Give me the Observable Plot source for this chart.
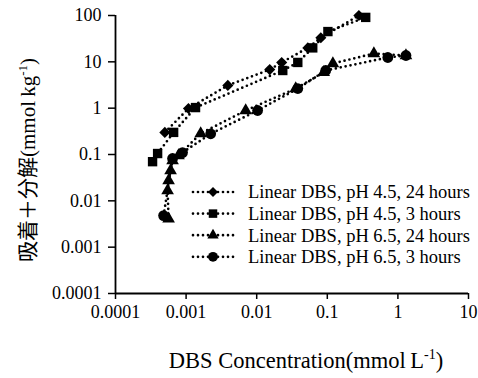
<!DOCTYPE html>
<html><head><meta charset="utf-8">
<script src="https://cdn.jsdelivr.net/npm/d3@7"></script>
<script src="https://cdn.jsdelivr.net/npm/@observablehq/plot@0.6"></script>
<style>
body{margin:0;background:#fff;}
#chart{position:relative;width:478px;height:378px;}
</style></head><body><div id="chart"></div>
<script>
const seriesNames = ["Linear DBS, pH 4.5, 24 hours","Linear DBS, pH 4.5, 3 hours","Linear DBS, pH 6.5, 24 hours","Linear DBS, pH 6.5, 3 hours"];
const ph45h24X = [0.0005, 0.00108, 0.0039, 0.0153, 0.0226, 0.053, 0.081, 0.28];
const ph45h24Y = [0.3, 0.98, 3.1, 6.8, 9.7, 20, 33, 100];
const ph45h3X = [0.000335, 0.000395, 0.000666, 0.00136, 0.0234, 0.0382, 0.0622, 0.102, 0.35];
const ph45h3Y = [0.07, 0.105, 0.3, 1.03, 6.5, 9.7, 20, 45, 91];
const ph65h24X = [0.000565, 0.000547, 0.000565, 0.000603, 0.000643, 0.00078, 0.00161, 0.00698, 0.0357, 0.089, 0.12, 0.457, 1.3];
const ph65h24Y = [0.0041, 0.0167, 0.0275, 0.045, 0.074, 0.095, 0.284, 0.89, 2.65, 5.9, 9.2, 15.1, 13.7];
const ph65h3X = [0.00048, 0.000643, 0.00089, 0.00223, 0.0103, 0.0382, 0.095, 0.72, 1.3];
const ph65h3Y = [0.0048, 0.082, 0.11, 0.28, 0.89, 2.65, 6.5, 12.4, 13.7];
const xTicks = [0.0001, 0.001, 0.01, 0.1, 1, 10];
const xTickLabels = ["0.0001", "0.001", "0.01", "0.1", "1", "10"];
const yTicks = [0.0001, 0.001, 0.01, 0.1, 1, 10, 100];
const yTickLabels = ["0.0001", "0.001", "0.01", "0.1", "1", "10", "100"];
const xTitle = "DBS Concentration(mmol\u2009L";
const yTitle = "吸着＋分解(mmol\u2009kg";
const unitExp = "-1";

const xs = [ph45h24X, ph45h3X, ph65h24X, ph65h3X];
const ys = [ph45h24Y, ph45h3Y, ph65h24Y, ph65h3Y];
const symbols = ["diamond2", "square", "triangle", "circle"];
const radii = [5.0, 5.3, 4.7, 5.4];
const series = seriesNames.map((name, k) => ({
  name, symbol: symbols[k], r: radii[k],
  data: xs[k].map((x, i) => ({x, y: ys[k][i]}))
}));

const font = "'Times New Roman', 'Liberation Serif', 'Noto Sans CJK JP', serif";

const plot = Plot.plot({
  width: 478, height: 378,
  marginLeft: 115, marginRight: 10, marginTop: 15, marginBottom: 85,
  style: {fontFamily: font, fontSize: "18px", color: "#000", background: "#fff"},
  x: {type: "log", domain: [0.0001, 10]},
  y: {type: "log", domain: [0.0001, 100]},
  marks: [
    ...series.map(s => Plot.line(s.data, {x: "x", y: "y", stroke: "#000", strokeWidth: 2.7, strokeDasharray: "0 5", strokeLinecap: "round"})),
    ...series.map(s => Plot.dot(s.data, {x: "x", y: "y", symbol: s.symbol, r: s.r, fill: "#000", stroke: "none"})),
    Plot.axisX({ticks: xTicks, tickFormat: d => xTickLabels[xTicks.indexOf(d)], tickSize: 6, tickPadding: 6, label: null, fontSize: 18, strokeWidth: 1.5}),
    Plot.axisY({ticks: yTicks, tickFormat: d => yTickLabels[yTicks.indexOf(d)], tickSize: 7, tickPadding: 7, label: null, fontSize: 18, strokeWidth: 1.5}),
    Plot.ruleX([0.0001], {stroke: "#000", strokeWidth: 1.8}),
    Plot.ruleY([0.0001], {stroke: "#000", strokeWidth: 1.8})
  ]
});
document.getElementById("chart").appendChild(plot);

const svg = d3.select(plot);
// x title
const xt = svg.append("text").attr("x", 306).attr("y", 368).attr("text-anchor", "middle")
  .attr("font-family", font).attr("font-size", 22.5).attr("fill", "#000");
xt.append("tspan").text(xTitle);
xt.append("tspan").attr("dy", -9).attr("font-size", 14).text(unitExp);
xt.append("tspan").attr("dy", 9).text(")");
// y title
const yt = svg.append("text").attr("transform", "translate(35,160) rotate(-90)").attr("text-anchor", "middle")
  .attr("font-family", font).attr("font-size", 21).attr("fill", "#000");
yt.append("tspan").text(yTitle);
yt.append("tspan").attr("dy", -8).attr("font-size", 13).text(unitExp);
yt.append("tspan").attr("dy", 8).text(")");
// legend
const lg = svg.append("g");
const symMap = {diamond2: d3.symbolDiamond2, square: d3.symbolSquare, triangle: d3.symbolTriangle, circle: d3.symbolCircle};
series.forEach((s, k) => {
  const cy = 192 + k * 21.6;
  lg.append("line").attr("x1", 193).attr("x2", 234).attr("y1", cy).attr("y2", cy)
    .attr("stroke", "#000").attr("stroke-width", 2.7).attr("stroke-dasharray", "0 5").attr("stroke-linecap", "round");
  lg.append("path").attr("transform", `translate(213,${cy})`)
    .attr("d", d3.symbol(symMap[s.symbol], Math.PI * (s.r - 0.5) ** 2)()).attr("fill", "#000");
  lg.append("text").attr("x", 248).attr("y", cy).attr("dy", "0.35em").attr("text-anchor", "start")
    .attr("font-family", font).attr("font-size", 18.5).attr("fill", "#000").text(s.name);
});
</script></body></html>
